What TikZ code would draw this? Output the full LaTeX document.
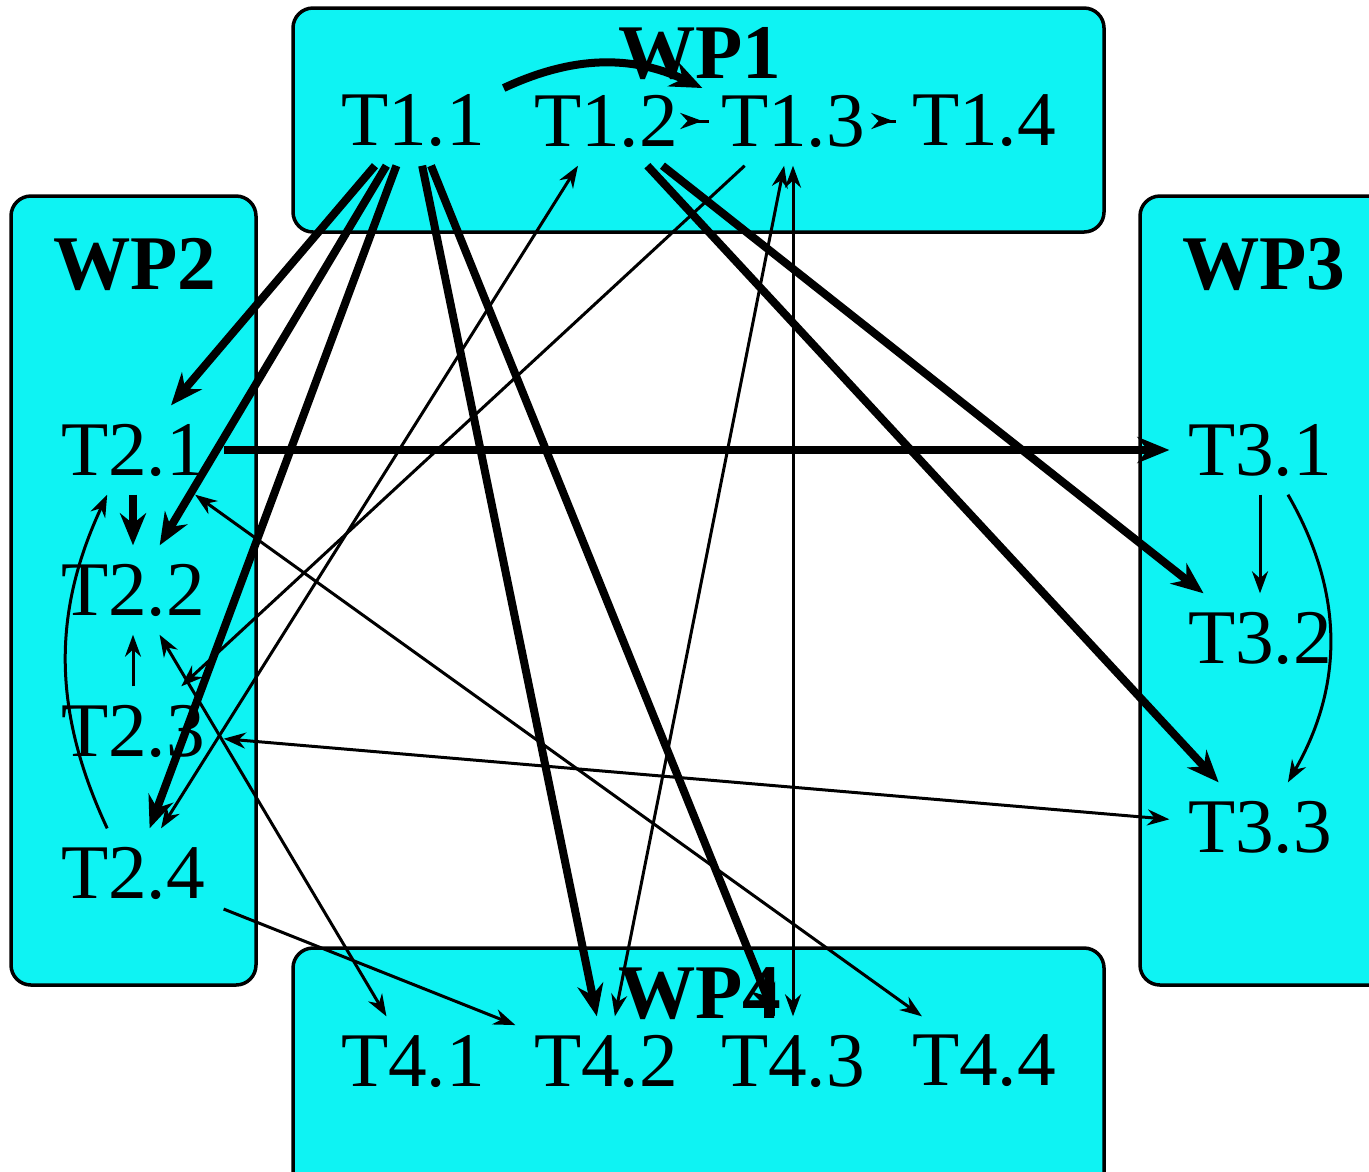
\documentclass[tikz,border=0pt]{standalone}
\usepackage{fontspec}
\setmainfont{Liberation Serif}
\usetikzlibrary{arrows.meta}
\definecolor{wpcyan}{RGB}{14,243,243}

\begin{document}
\begin{tikzpicture}[
	thickarrow/.style={line width=0.08cm, -{Stealth[length=0.32cm,width=0.26cm]}},
	thinarrow/.style={line width=0.03cm, -{Stealth[length=0.22cm,width=0.16cm]}},
	bothways/.style={line width=0.03cm, {Stealth[length=0.22cm,width=0.16cm]}-{Stealth[length=0.22cm,width=0.16cm]}}
]
\tikzset{
    wpbox/.style = {draw=black, line width=0.035cm, fill=wpcyan, rounded corners=0.2cm},
    tasknode/.style = {inner xsep=0.18cm, inner ysep=0pt, minimum height=0.88cm, font=\fontsize{22}{26}\selectfont},
    wplabel/.style = {inner sep=0pt, font=\fontsize{22}{26}\selectfont\bfseries},
}
\useasboundingbox (0,0) rectangle (13.69,-11.71);
\draw[wpbox] (2.93,-0.08) rectangle (11.04,-2.32);
\draw[wpbox] (0.11,-1.96) rectangle (2.56,-9.85);
\draw[wpbox] (11.40,-1.96) rectangle (13.95,-9.85);
\draw[wpbox] (2.93,-9.48) rectangle (11.04,-11.95);

\node (T11) [tasknode] at (4.13,-1.21) {T1.1};
\node (T12) [tasknode] at (6.06,-1.21) {T1.2};
\node (T13) [tasknode] at (7.93,-1.21) {T1.3};
\node (T14) [tasknode] at (9.84,-1.21) {T1.4};
\node (T21) [tasknode] at (1.33,-4.50) {T2.1};
\node (T22) [tasknode] at (1.33,-5.90) {T2.2};
\node (T23) [tasknode] at (1.33,-7.31) {T2.3};
\node (T24) [tasknode] at (1.33,-8.73) {T2.4};
\node (T31) [tasknode] at (12.60,-4.50) {T3.1};
\node (T32) [tasknode] at (12.60,-6.38) {T3.2};
\node (T33) [tasknode] at (12.60,-8.27) {T3.3};
\node (T41) [tasknode] at (4.13,-10.61) {T4.1};
\node (T42) [tasknode] at (6.06,-10.61) {T4.2};
\node (T43) [tasknode] at (7.93,-10.61) {T4.3};
\node (T44) [tasknode] at (9.84,-10.61) {T4.4};

% strong dependencies
\draw[thickarrow] (T11.20) to[bend left=25] (T13.160);
\draw[thickarrow] (T11) -- (T21);
\draw[thickarrow] (T11) -- (T22);
\draw[thickarrow] (T11) -- (T24);
\draw[thickarrow] (T11) -- (T42);
\draw[thickarrow] (T11) -- (T43);
\draw[thickarrow] (T12) -- (T32);
\draw[thickarrow] (T12) -- (T33);
\draw[thickarrow] (T21) -- (T31);
\draw[thickarrow] (T21) -- (T22);

% weak dependencies
\draw[thinarrow, shorten <=-0.12cm] (T12.east) -- (T13.west);
\draw[thinarrow, shorten <=-0.12cm] (T13.east) -- (T14.west);
\draw[thinarrow] (T13) -- (T23);
\draw[thinarrow] (T24) -- (T42);
\draw[thinarrow] (T23) -- (T22);
\draw[thinarrow] (T31) -- (T32);
\draw[thinarrow] (T24.120) to[bend left=25] (T21.240);
\draw[thinarrow] (T31.-58) to[bend left=30] (T33.58);
\draw[bothways] (T12) -- (T24);
\draw[bothways] (T13) -- (T42);
\draw[bothways] (T13) -- (T43);
\draw[bothways] (T21) -- (T44);
\draw[bothways] (T22) -- (T41);
\draw[bothways] (T23) -- (T33);

\node (wp1) [wplabel] at (7.00,-0.54) {WP1};
\node (wp2) [wplabel] at (1.35,-2.64) {WP2};
\node (wp3) [wplabel] at (12.64,-2.64) {WP3};
\node (wp4) [wplabel] at (7.00,-9.94) {WP4};
\end{tikzpicture}
\end{document}
